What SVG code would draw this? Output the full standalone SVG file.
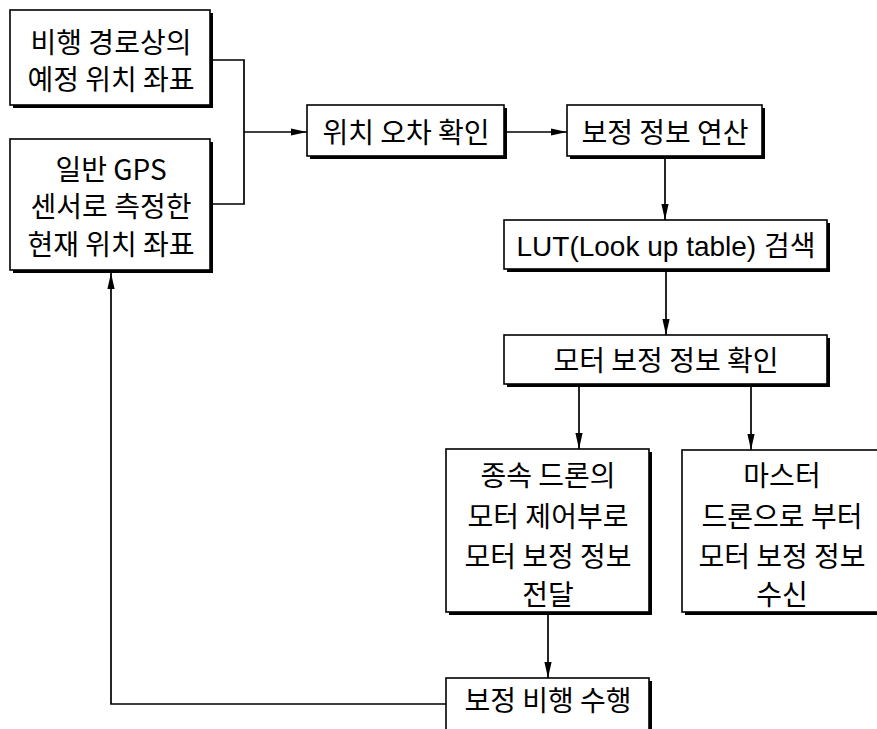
<svg xmlns="http://www.w3.org/2000/svg" width="877" height="729" viewBox="0 0 877 729">
<style>
.sh{fill:#000}
.bx{fill:#fff;stroke:#000;stroke-width:1.6}
.t{font-family:"Noto Sans CJK KR","Noto Sans",sans-serif;font-size:28px;fill:#000;text-anchor:middle}
.lat{font-family:"Liberation Sans","Noto Sans CJK KR",sans-serif}
.c{fill:none;stroke:#000;stroke-width:1.7}
</style>
<defs>
<marker id="ah" viewBox="0 0 16 8" refX="16" refY="4" markerWidth="16" markerHeight="8" markerUnits="userSpaceOnUse" orient="auto">
<path d="M0,0.4 L16,4 L0,7.6 Z" fill="#000"/>
</marker>
</defs>
<rect width="877" height="729" fill="#fff"/>
<g id="connectors">
<path class="c" d="M210,60 H244 V204 H210"/>
<path class="c" d="M244,132 H307" marker-end="url(#ah)"/>
<path class="c" d="M507,132 H567" marker-end="url(#ah)"/>
<path class="c" d="M665,159 V220" marker-end="url(#ah)"/>
<path class="c" d="M666,272 V335" marker-end="url(#ah)"/>
<path class="c" d="M579,387 V449" marker-end="url(#ah)"/>
<path class="c" d="M751,387 V450" marker-end="url(#ah)"/>
<path class="c" d="M548,615 V678" marker-end="url(#ah)"/>
<path class="c" d="M446,704 H111 V273" marker-end="url(#ah)"/>
</g>
<g id="n1">
<rect class="sh" x="13" y="13" width="200" height="95"/>
<rect class="bx" x="10" y="10" width="200" height="95"/>
<text class="t" x="111" y="53">비행 경로상의</text>
<text class="t" x="111" y="90">예정 위치 좌표</text>
</g>
<g id="n2">
<rect class="sh" x="13" y="142" width="200" height="131"/>
<rect class="bx" x="10" y="139" width="200" height="131"/>
<text class="t" x="111" y="180">일반 GPS</text>
<text class="t" x="111" y="217">센서로 측정한</text>
<text class="t" x="111" y="255">현재 위치 좌표</text>
</g>
<g id="n3">
<rect class="sh" x="310" y="108" width="197" height="51"/>
<rect class="bx" x="307" y="105" width="197" height="51"/>
<text class="t" x="406" y="143">위치 오차 확인</text>
</g>
<g id="n4">
<rect class="sh" x="570" y="108" width="195" height="51"/>
<rect class="bx" x="567" y="105" width="195" height="51"/>
<text class="t" x="665" y="143">보정 정보 연산</text>
</g>
<g id="n5">
<rect class="sh" x="507" y="223" width="323" height="49"/>
<rect class="bx" x="504" y="220" width="323" height="49"/>
<text class="t lat" x="666" y="256">LUT(Look up table) 검색</text>
</g>
<g id="n6">
<rect class="sh" x="507" y="338" width="323" height="49"/>
<rect class="bx" x="504" y="335" width="323" height="49"/>
<text class="t" x="666" y="371">모터 보정 정보 확인</text>
</g>
<g id="n7">
<rect class="sh" x="449" y="452" width="203" height="163"/>
<rect class="bx" x="446" y="449" width="203" height="163"/>
<text class="t" x="548" y="486">종속 드론의</text>
<text class="t" x="548" y="527">모터 제어부로</text>
<text class="t" x="548" y="567">모터 보정 정보</text>
<text class="t" x="548" y="605">전달</text>
</g>
<g id="n8">
<rect class="sh" x="685" y="453" width="200" height="162"/>
<rect class="bx" x="682" y="450" width="200" height="162"/>
<text class="t" x="782" y="486">마스터</text>
<text class="t" x="782" y="527">드론으로 부터</text>
<text class="t" x="782" y="567">모터 보정 정보</text>
<text class="t" x="782" y="605">수신</text>
</g>
<g id="n9">
<rect class="sh" x="449" y="681" width="203" height="60"/>
<rect class="bx" x="446" y="678" width="203" height="60"/>
<text class="t" x="548" y="711">보정 비행 수행</text>
</g>
</svg>
